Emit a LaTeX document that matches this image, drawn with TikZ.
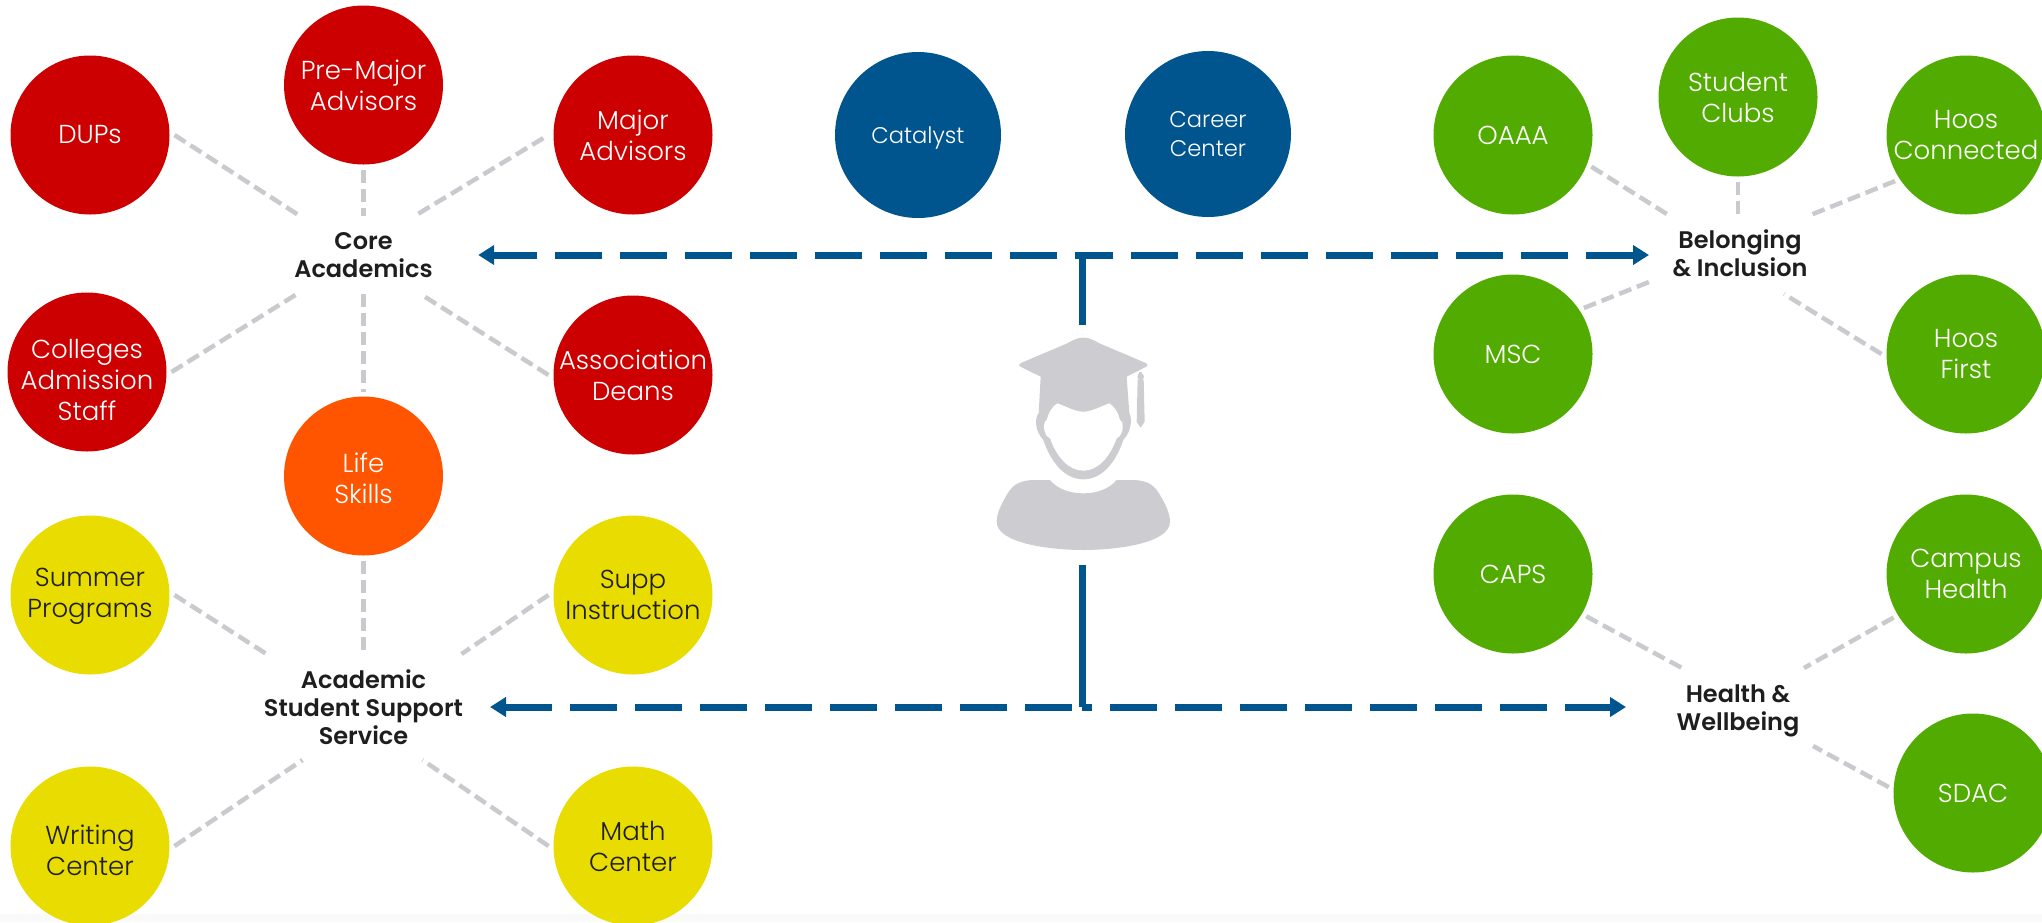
\documentclass[tikz,border=0pt]{standalone}
\usepackage{fontspec}
\setmainfont{Poppins}[UprightFont=* Light,BoldFont=* SemiBold]
\usetikzlibrary{arrows.meta}
\definecolor{cred}{HTML}{CC0000}
\definecolor{corange}{HTML}{FF5500}
\definecolor{cyellow}{HTML}{E8DC00}
\definecolor{cgreen}{HTML}{52AB00}
\definecolor{cblue}{HTML}{00558F}
\definecolor{cgray}{HTML}{C8CACE}
\definecolor{cperson}{HTML}{CDCDD1}
\definecolor{cdark}{HTML}{1E1E1E}
\definecolor{cband}{HTML}{FAFAFA}
\newcommand\dn[1]{\rule{0pt}{#1}}
\tikzset{
  bub/.style={circle,minimum size=159pt,inner sep=-40pt,outer sep=5pt,align=center,text=white,font=\fontsize{26}{31}\selectfont},
  redbub/.style={bub,fill=cred},
  orangebub/.style={bub,fill=corange},
  yellowbub/.style={bub,fill=cyellow,text=cdark},
  greenbub/.style={bub,fill=cgreen},
  bluebub/.style={bub,fill=cblue,minimum size=166pt,font=\fontsize{22.6}{29}\selectfont},
  hub/.style={rectangle,inner sep=0pt,outer sep=0pt,align=center,text=cdark,font=\fontsize{24}{28}\selectfont\bfseries},
  graydash/.style={draw=cgray,line width=4.5pt,dash pattern=on 13pt off 6pt},
  bluedash/.style={draw=cblue,line width=7pt,dash pattern=on 47pt off 18pt},
  bluetip/.style={draw=cblue,line width=7pt,-{Triangle[length=16pt,width=19pt]}},
  blueline/.style={draw=cblue,line width=7pt}
}
\begin{document}
\begin{tikzpicture}[x=1pt,y=-1pt]
\useasboundingbox (0,0) rectangle (2042,922);
\fill[cband] (0,914) rectangle (2042,922);
% person
\begin{scope}[shift={(950,230)},x=0.33333pt,y=-0.33333pt]
\fill[cperson,line join=round] (400,323) .. controls (375,323) and (365,335) .. (340,345)
  -- (215,398) .. controls (205,403) and (205,408) .. (215,412) -- (272,440)
  -- (266,550) .. controls (255,560) and (252,600) .. (280,630)
  .. controls (300,690) and (340,748) .. (400,748)
  .. controls (460,748) and (500,690) .. (520,630)
  .. controls (548,600) and (545,560) .. (538,550)
  -- (530,440) -- (585,412) .. controls (595,408) and (595,403) .. (585,398)
  -- (460,345) .. controls (435,335) and (425,323) .. (400,323) -- cycle;
\fill[white] (322,520) .. controls (350,530) and (375,545) .. (400,545)
  .. controls (425,545) and (450,530) .. (478,520)
  .. controls (495,530) and (505,550) .. (510,570)
  .. controls (522,575) and (522,615) .. (500,625)
  .. controls (480,680) and (445,722) .. (400,722)
  .. controls (355,722) and (320,680) .. (300,625)
  .. controls (278,615) and (278,575) .. (290,570)
  .. controls (295,550) and (305,530) .. (322,520) -- cycle;
\fill[cperson] (300,750) .. controls (325,780) and (365,790) .. (400,790)
  .. controls (435,790) and (475,780) .. (500,750)
  -- (550,750) .. controls (600,752) and (615,770) .. (630,795)
  .. controls (645,820) and (660,850) .. (660,875)
  .. controls (660,940) and (500,960) .. (400,960)
  .. controls (300,960) and (140,940) .. (140,875)
  .. controls (140,850) and (155,820) .. (170,795)
  .. controls (185,770) and (200,752) .. (250,750) -- cycle;
\fill[cperson] (568,425) rectangle (575,440);
\fill[cperson] (572,440) circle (10);
\fill[cperson] (563,448) -- (581,448) -- (584,575) -- (572,593) -- (560,575) -- cycle;
\end{scope}
\node[rectangle,minimum width=176pt,minimum height=240pt,inner sep=0pt,outer sep=0pt] (grad) at (1082,445) {};
% circles
\node[redbub] (dups) at (90,135) {DUPs};
\node[redbub] (premajor) at (363.5,85) {Pre-Major\\Advisors};
\node[redbub] (major) at (633,135) {Major\\Advisors};
\node[redbub] (colleges) at (87,372) {\dn{35pt}Colleges\\Admission\\Staff};
\node[redbub] (assoc) at (633,375) {Association\\Deans};
\node[orangebub] (life) at (363.5,476) {\dn{24pt}Life\\Skills};
\node[yellowbub] (summer) at (90,595) {\dn{21pt}Summer\\Programs};
\node[yellowbub] (supp) at (633,595) {Supp\\Instruction};
\node[yellowbub] (writing) at (90,846) {\dn{29pt}Writing\\Center};
\node[yellowbub] (math) at (633,846) {Math\\Center};
\node[bluebub] (catalyst) at (918,135) {\dn{22pt}Catalyst};
\node[bluebub] (career) at (1208,134) {Career\\Center};
\node[greenbub] (oaaa) at (1513,135) {OAAA};
\node[greenbub] (clubs) at (1738,97) {\dn{21pt}Student\\Clubs};
\node[greenbub] (connected) at (1966,135) {Hoos\\Connected};
\node[greenbub] (msc) at (1513,354) {MSC};
\node[greenbub] (first) at (1966,354) {Hoos\\First};
\node[greenbub] (caps) at (1513,574) {CAPS};
\node[greenbub] (campus) at (1966,574) {Campus\\Health};
\node[greenbub] (sdac) at (1973,793) {SDAC};
% hubs
\node[hub,minimum width=136pt,minimum height=78pt] (core) at (363.5,255) {Core\\Academics};
\node[hub,minimum width=182pt,minimum height=78pt] (belong) at (1740,255) {Belonging\\\& Inclusion\rule[-3pt]{0pt}{1pt}};
\node[hub,minimum width=200pt,minimum height=106pt] (support) at (363.5,707) {Academic\\Student Support\\Service};
\node[hub,minimum width=224pt,minimum height=78pt] (health) at (1738,707) {\dn{26pt}Health \&\\Wellbeing};
% gray connectors
\draw[graydash] (dups.0) -- ([xshift=-63.5pt]core.north);
\draw[graydash] (premajor.south) -- (core.north);
\draw[graydash,shorten <=6pt] (major.180) -- ([xshift=51pt]core.north);
\draw[graydash] (colleges.0) -- ([xshift=-66.5pt]core.south);
\draw[graydash] (assoc.180) -- ([xshift=57pt]core.south);
\draw[graydash] (core.south) -- (life.north);
\draw[graydash] (life.south) -- (support.north);
\draw[graydash] (summer.0) -- ([xshift=-97pt]support.north);
\draw[graydash] (supp.180) -- ([xshift=98pt]support.north);
\draw[graydash] (writing.0) -- ([xshift=-61pt]support.south);
\draw[graydash] (math.180) -- ([xshift=59pt]support.south);
\draw[graydash] (oaaa.-22) -- ([xshift=-70pt]belong.north);
\draw[graydash] (clubs.south) -- (belong.north -| clubs.south);
\draw[graydash] (connected.213.5) -- ([xshift=68pt]belong.north);
\draw[graydash] (msc.33.5) -- ([yshift=-27pt]belong.west);
\draw[graydash] (first.180) -- ([xshift=44pt]belong.south);
\draw[graydash] (caps.-30.5) -- ([xshift=-56pt]health.north);
\draw[graydash] (campus.211) -- ([xshift=66pt]health.north);
\draw[graydash] (sdac.176.6) -- ([xshift=75pt]health.south);
% blue connectors
\draw[blueline] (grad.north) -- (grad.north |- core.east);
\draw[blueline] (grad.south) -- (grad.south |- support.east);
\draw[bluedash,dash phase=40pt,shorten >=59.5pt] (grad.north |- core.east) -- (core.east);
\draw[bluetip] ([xshift=61pt]core.east) -- ([xshift=45.5pt]core.east);
\draw[bluedash,dash phase=16pt,shorten >=17pt] (grad.north |- belong.west) -- (belong.west);
\draw[bluetip] ([xshift=-19pt]belong.west) -- (belong.west);
\draw[bluedash,dash phase=55pt,shorten >=40.5pt] (grad.south |- support.east) -- (support.east);
\draw[bluetip] ([xshift=42pt]support.east) -- ([xshift=26.5pt]support.east);
\draw[bluedash,dash phase=37pt,shorten >=18pt] (grad.south |- health.west) -- (health.west);
\draw[bluetip] ([xshift=-20pt]health.west) -- (health.west);
\end{tikzpicture}
\end{document}
